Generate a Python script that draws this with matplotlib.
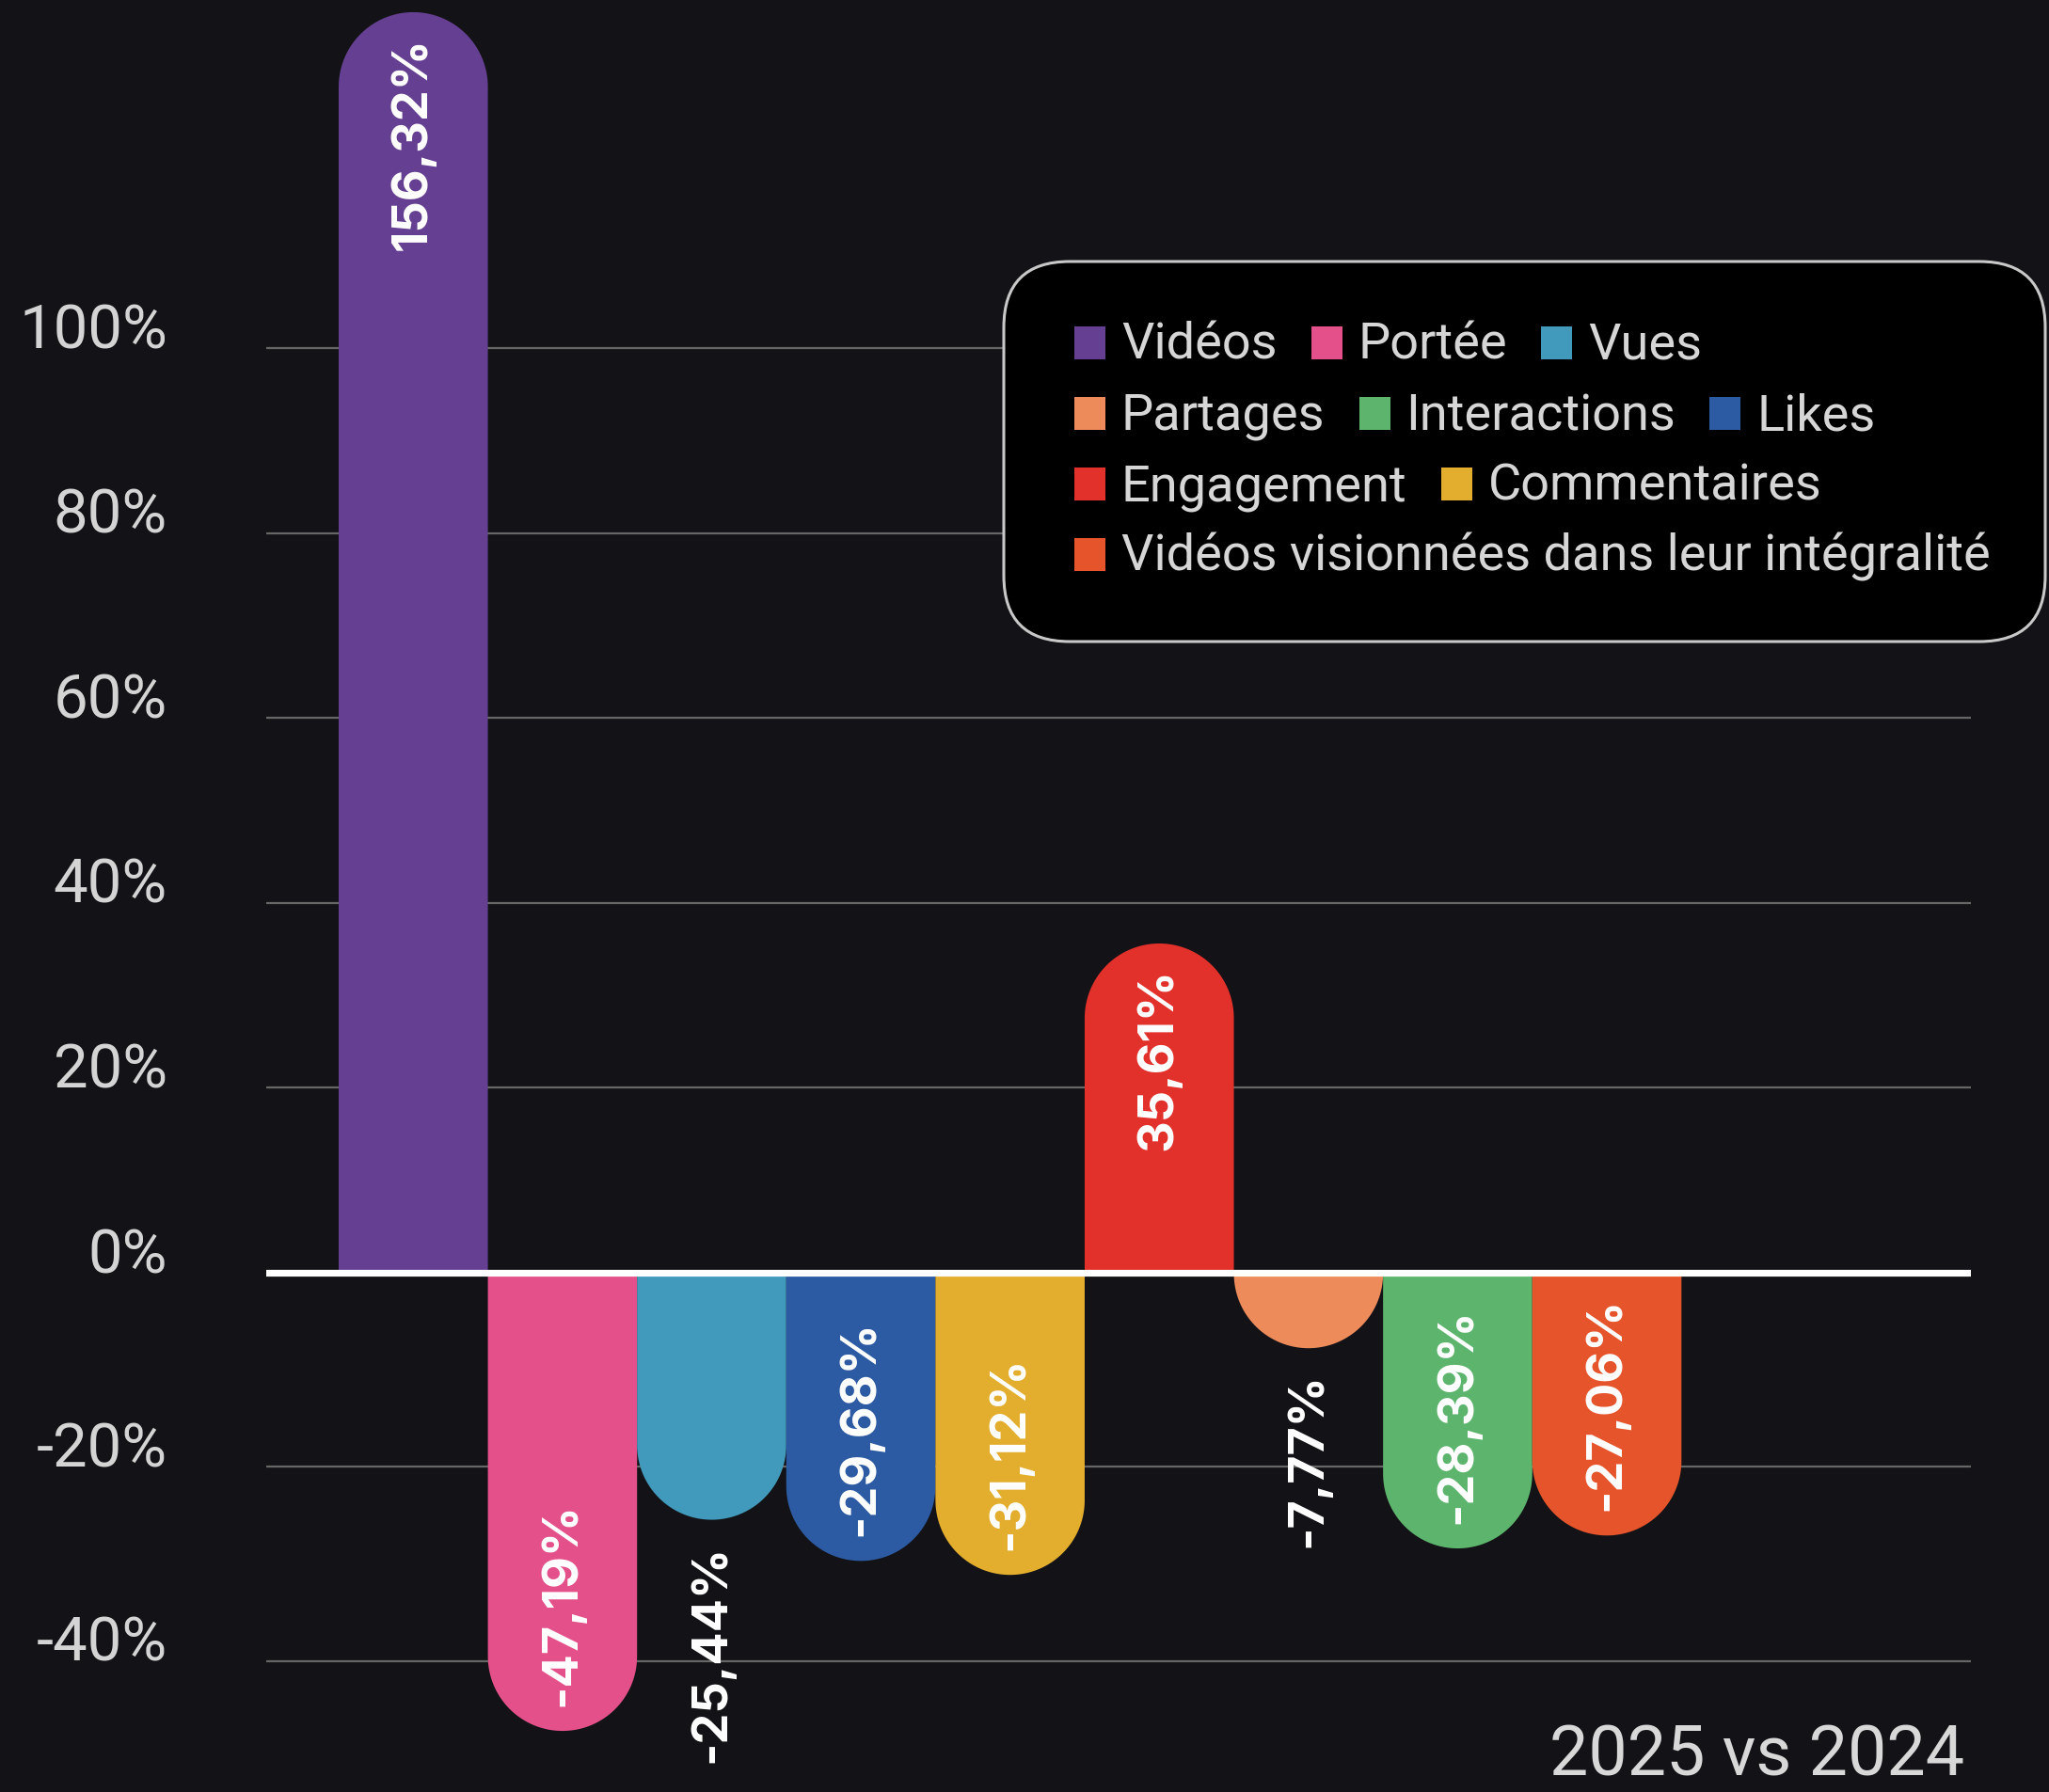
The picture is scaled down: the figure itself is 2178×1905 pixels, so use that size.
import numpy as np
import matplotlib
matplotlib.use('Agg')
import matplotlib.pyplot as plt
import matplotlib.transforms as mtransforms
from matplotlib.path import Path
from matplotlib.patches import PathPatch, FancyBboxPatch, Rectangle

# evolution 2025 vs 2024, par indicateur
categories = ['Vidéos', 'Portée', 'Vues', 'Likes', 'Commentaires', 'Engagement',
              'Partages', 'Interactions', 'Vidéos visionnées dans leur intégralité']
values = [156.32, -47.19, -25.44, -29.68, -31.12, 35.61, -7.77, -28.39, -27.06]
colors = ['#653f91', '#e4508a', '#419abb', '#2c5ba3', '#e3ad2d', '#e2302b',
          '#ee8b5b', '#5db56d', '#e5542a']
legend_rows = [['Vidéos', 'Portée', 'Vues'],
               ['Partages', 'Interactions', 'Likes'],
               ['Engagement', 'Commentaires'],
               ['Vidéos visionnées dans leur intégralité']]
yticks = [-40, -20, 0, 20, 40, 60, 80, 100]
subtitle = '2025 vs 2024'

W, H, DPI = 2178, 1905, 200
BG = '#131317'
plt.rcParams['font.family'] = ['Roboto', 'DejaVu Sans']


# axe vertical par morceaux : negatifs un peu etires, au-dela de 100 % compresse
def fwd(v):
    v = np.asarray(v, dtype=float)
    return np.where(v < 0, v * 1.05, np.where(v > 100, 100 + (v - 100) * 0.645, v))


def inv(s):
    s = np.asarray(s, dtype=float)
    return np.where(s < 0, s / 1.05, np.where(s > 100, 100 + (s - 100) / 0.645, s))


def fmt(v):
    return f'{v:.2f}'.replace('.', ',') + '%'


fig = plt.figure(figsize=(W / DPI, H / DPI), dpi=DPI, facecolor=BG)
ax = fig.add_axes([283 / W, 0, (2095 - 283) / W, 1])
ax.set_facecolor(BG)
ax.set_yscale('function', functions=(fwd, inv))
ax.set_ylim(-53.48, 158.36)
ax.set_xlim(-0.9855, 10.44)
for s in ax.spines.values():
    s.set_visible(False)
ax.set_xticks([])
ax.set_yticks(yticks)
ax.tick_params(axis='y', length=0, labelleft=False)
ax.grid(axis='y', color='#666666', lw=0.8, zorder=1)
ax.set_axisbelow(True)
ax.axhline(0, color='white', lw=2.6, zorder=4)

for t in yticks:
    ax.text(-0.058, t, f'{t}%', transform=ax.get_yaxis_transform(),
            ha='right', va='baseline', fontsize=23.5, color='#d4d4d4')

# barres arrondies du cote de la valeur
th = np.linspace(0, np.pi, 80)
for i, (v, c) in enumerate(zip(values, colors)):
    (x0, y0), (x1, y1) = ax.transData.transform([(i - 0.5, 0), (i + 0.5, v)])
    rx = (x1 - x0) / 2
    cx = (x0 + x1) / 2
    sg = 1 if v > 0 else -1
    ry = min(rx, abs(y1 - y0))
    yc = y1 - sg * ry
    arc = np.column_stack([cx + rx * np.cos(th), yc + sg * ry * np.sin(th)])
    verts = np.vstack([[(x1, y0), (x1, yc)], arc, [(x0, y0), (x1, y0)]])
    codes = [Path.MOVETO] + [Path.LINETO] * (len(verts) - 2) + [Path.CLOSEPOLY]
    ax.add_patch(PathPatch(Path(verts, codes), transform=mtransforms.IdentityTransform(),
                           fc=c, ec='none', zorder=2))

    if v < 0 and abs(v) > 26:
        va, dy = 'bottom', 9.4
    else:
        va, dy = 'top', -9.4
    ax.annotate(fmt(v), xy=(i, v), xytext=(0, dy), textcoords='offset points',
                rotation=90, ha='center', va=va, color='white', fontsize=18.8,
                fontweight='bold', family=['Inter', 'DejaVu Sans'], zorder=5)

# legende en pixels depuis le coin haut gauche
px = mtransforms.Affine2D().scale(1 / W, -1 / H).translate(0, 1) + fig.transFigure
fig.add_artist(FancyBboxPatch((1067, 278), 1107, 404,
                              boxstyle='round,pad=0,rounding_size=70', transform=px,
                              fc='black', ec='#c8c8c8', lw=1.1, zorder=5))
renderer = fig.canvas.get_renderer()
color_of = dict(zip(categories, colors))
for r, row in enumerate(legend_rows):
    base = 382 + r * 75
    x = 1142
    for name in row:
        fig.add_artist(Rectangle((x, base - 35), 33, 35, transform=px,
                                 fc=color_of[name], ec='none', zorder=6))
        t = fig.text(x + 50, base, name, transform=px, ha='left', va='baseline',
                     fontsize=19.5, color='#d6d6d6', zorder=6)
        x += 50 + t.get_window_extent(renderer=renderer).width + 36

fig.text(2088, 1888, subtitle, transform=px, ha='right', va='baseline',
         fontsize=26.5, color='#d8d8d8')

fig.savefig('out.png', dpi=DPI, facecolor=BG)
